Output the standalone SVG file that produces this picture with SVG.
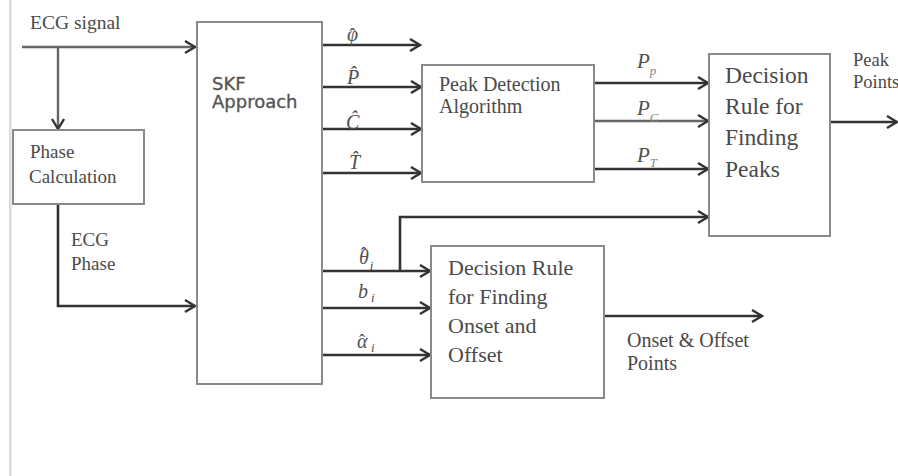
<svg xmlns="http://www.w3.org/2000/svg" width="898" height="476" viewBox="0 0 898 476">
<defs>
<marker id="arr" markerUnits="userSpaceOnUse" markerWidth="14" markerHeight="16" refX="11" refY="7" orient="auto">
<path d="M1,1 L11,7 L1,13" fill="none" stroke="#333" stroke-width="2.4"/>
</marker>
<style>
.box{fill:#fff;stroke:#8a8a8a;stroke-width:2}
.ln{fill:none;stroke:#333;stroke-width:2.6}
.lg{fill:none;stroke:#666;stroke-width:2.4}
.t{font-family:"Liberation Serif","Times New Roman",serif;fill:#4a4a4a}
.m{font-family:"Liberation Serif","Times New Roman",serif;font-style:italic;fill:#505050}
.h{font-style:normal}
.s{font-family:"DejaVu Sans","Verdana",sans-serif;fill:#555;stroke:#555;stroke-width:0.35}
</style>
</defs>
<rect width="898" height="476" fill="#fff"/>
<rect x="9" y="0" width="2.5" height="476" fill="#d6dde7"/>

<g id="connectors">
<line class="lg" x1="22" y1="47" x2="195" y2="47" marker-end="url(#arr)"/>
<line class="lg" x1="58" y1="47" x2="58" y2="129" marker-end="url(#arr)"/>
<polyline class="ln" points="58,205 58,306 195,306" marker-end="url(#arr)"/>
<line class="ln" x1="322" y1="45" x2="420" y2="45" marker-end="url(#arr)"/>
<line class="ln" x1="322" y1="87" x2="421" y2="87" marker-end="url(#arr)"/>
<line class="ln" x1="322" y1="129" x2="421" y2="129" marker-end="url(#arr)"/>
<line class="ln" x1="322" y1="173" x2="421" y2="173" marker-end="url(#arr)"/>
<line class="ln" x1="594" y1="83" x2="708" y2="83" marker-end="url(#arr)"/>
<line class="lg" x1="594" y1="121" x2="708" y2="121" marker-end="url(#arr)"/>
<line class="ln" x1="594" y1="169" x2="708" y2="169" marker-end="url(#arr)"/>
<line class="ln" x1="830" y1="122" x2="897" y2="122" marker-end="url(#arr)"/>
<line class="ln" x1="322" y1="271" x2="430" y2="271" marker-end="url(#arr)"/>
<polyline class="ln" points="400,271 400,217 708,217" marker-end="url(#arr)"/>
<line class="ln" x1="322" y1="308" x2="430" y2="308" marker-end="url(#arr)"/>
<line class="ln" x1="322" y1="355" x2="430" y2="355" marker-end="url(#arr)"/>
<line class="ln" x1="604" y1="316" x2="762" y2="316" marker-end="url(#arr)"/>
</g>

<g id="input-label">
<text class="t" x="30" y="29" font-size="19.5">ECG signal</text>
</g>

<g id="phase-calc">
<rect class="box" x="13" y="130" width="131" height="74"/>
<text class="t" x="30" y="158" font-size="19">Phase</text>
<text class="t" x="29" y="183" font-size="19">Calculation</text>
</g>

<g id="ecg-phase-label">
<text class="t" x="71" y="246" font-size="19">ECG</text>
<text class="t" x="71" y="270" font-size="19">Phase</text>
</g>

<g id="skf">
<rect class="box" x="197" y="22" width="125" height="362"/>
<text class="s" font-size="18"><tspan x="212" y="90">SKF</tspan><tspan x="212" y="108">Approach</tspan></text>
</g>

<g id="skf-labels">
<text class="m" x="347" y="41" font-size="20">φ<tspan class="h" font-size="18" dx="-8.5">ˆ</tspan></text>
<text class="m" x="347" y="84" font-size="20">P̂</text>
<text class="m" x="346" y="129" font-size="20">Ĉ</text>
<text class="m" x="349" y="169" font-size="20">T̂</text>
<text class="m" x="359" y="264" font-size="20">θ<tspan class="h" font-size="18" dx="-8" dy="-4">ˆ</tspan><tspan font-size="13" dx="3" dy="10">i</tspan></text>
<text class="m" x="358" y="298" font-size="20">b<tspan font-size="13" dx="3" dy="4">i</tspan></text>
<text class="m" x="357" y="348" font-size="20">α<tspan class="h" font-size="18" dx="-8.5" dy="-1">ˆ</tspan><tspan font-size="13" dx="6" dy="5">i</tspan></text>
</g>

<g id="peak-detection">
<rect class="box" x="422" y="65" width="172" height="117"/>
<text class="t" x="439" y="91" font-size="20">Peak Detection</text>
<text class="t" x="439" y="113" font-size="20">Algorithm</text>
</g>

<g id="peak-labels">
<text class="m" x="637" y="68" font-size="21">P<tspan font-size="13" dy="7" fill="#888">p</tspan></text>
<text class="m" x="637" y="115" font-size="21">P<tspan font-size="13" dy="7" fill="#888">C</tspan></text>
<text class="m" x="637" y="162" font-size="21">P<tspan font-size="13" dy="5" fill="#888">T</tspan></text>
</g>

<g id="decision-peaks">
<rect class="box" x="709" y="54" width="121" height="182"/>
<text class="t" x="725" y="83" font-size="23.5">Decision</text>
<text class="t" x="725" y="114" font-size="23.5">Rule for</text>
<text class="t" x="725" y="145" font-size="23.5">Finding</text>
<text class="t" x="725" y="177" font-size="23.5">Peaks</text>
</g>

<g id="peak-points-label">
<text class="t" x="853" y="66" font-size="18.5">Peak</text>
<text class="t" x="853" y="88" font-size="18.5">Points</text>
</g>

<g id="decision-onset">
<rect class="box" x="431" y="246" width="173" height="152"/>
<text class="t" x="448" y="275" font-size="22">Decision Rule</text>
<text class="t" x="448" y="304" font-size="22">for Finding</text>
<text class="t" x="448" y="333" font-size="22">Onset and</text>
<text class="t" x="448" y="362" font-size="22">Offset</text>
</g>

<g id="onset-offset-label">
<text class="t" x="627" y="347" font-size="20">Onset &amp; Offset</text>
<text class="t" x="627" y="370" font-size="20">Points</text>
</g>
</svg>
